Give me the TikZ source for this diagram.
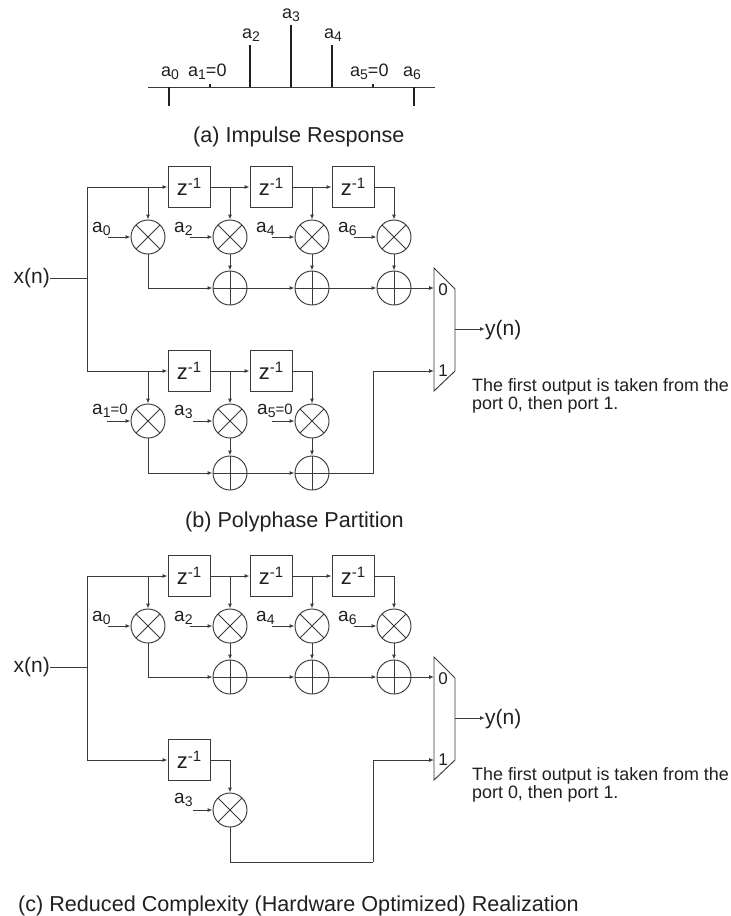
\documentclass[tikz,border=0pt]{standalone}
\usepackage{fontspec}
\setmainfont{Liberation Sans}
\usetikzlibrary{arrows.meta}
\definecolor{LineGray}{HTML}{3a3a3a}
\definecolor{InkGray}{HTML}{231f20}
\newcommand{\zinv}{z\raisebox{6.5pt}{\fontsize{15}{15}\selectfont -1}}
\newcommand{\subi}[1]{\raisebox{-3.5pt}{\fontsize{14}{14}\selectfont #1}}
\tikzset{
    sig/.style={draw=LineGray, line width=0.95pt},
    sigarrow/.style={sig, ->},
    stem/.style={draw=InkGray, line width=1.5pt},
    lbl/.style={inner sep=0pt, text=InkGray},
    coef/.style={lbl, anchor=base west, font=\fontsize{19}{19}\selectfont},
    sigtext/.style={lbl, font=\fontsize{21}{21}\selectfont},
    captext/.style={lbl, anchor=base west, font=\fontsize{21.6}{22}\selectfont},
    portlbl/.style={lbl, font=\fontsize{17}{17}\selectfont},
    zbox/.style={draw=LineGray, line width=0.95pt, minimum width=42pt, minimum height=41pt, inner sep=0pt, text=InkGray, font=\fontsize{22}{22}\selectfont},
    mulnode/.style={circle, draw=LineGray, line width=0.95pt, minimum size=34pt, inner sep=0pt,
        path picture={\draw[LineGray, line width=0.95pt] (path picture bounding box.north west) -- (path picture bounding box.south east)
            (path picture bounding box.north east) -- (path picture bounding box.south west);}},
    addnode/.style={circle, draw=LineGray, line width=0.95pt, minimum size=34pt, inner sep=0pt,
        path picture={\draw[LineGray, line width=0.95pt] (path picture bounding box.north) -- (path picture bounding box.south)
            (path picture bounding box.west) -- (path picture bounding box.east);}},
}
\begin{document}
\begin{tikzpicture}[x=1pt, y=-1pt, >={Latex[length=5pt,width=4pt]}]
    \useasboundingbox (0,0) rectangle (731,916);
    % (a)
    \coordinate (axisL) at (148,87);
    \coordinate (axisR) at (435,87);
    \draw[sig] (axisL) -- (axisR);
    \foreach \xx/\yy in {169/106,210/84,250/45,291/25,332/45,373/84,414/106} {
        \draw[stem] (\xx,87) -- (\xx,\yy);
    }
    \foreach \nm/\xx/\yy/\txt in {A/161/76/a\subi{0},B/188/76/a\subi{1}={0},C/242/38/a\subi{2},D/282/18/a\subi{3},E/324/38/a\subi{4},F/350/76/a\subi{5}={0},G/403/76/a\subi{6}} {
        \node[coef, font=\fontsize{18}{18}\selectfont] (imp\nm) at (\xx,\yy) {\txt};
    }
    \node[captext] (capA) at (193,142) {(a) Impulse Response};
    % (b) and (c), upper branch
    \foreach \p/\dy in {b/0,c/389} {
        \node[sigtext, anchor=east] (\p xn) at (50,278+\dy) {x(n)};
        \coordinate (\p rail) at (87,187+\dy);
        \coordinate (\p join) at (87,278+\dy);
        \foreach \n/\xx in {A/189,B/271,C/353} {
            \node[zbox] (\p z\n) at (\xx,187+\dy) {\zinv};
        }
        \foreach \n/\xx/\txt in {A/148/0,B/230/2,C/312/4,D/394/6} {
            \node[mulnode] (\p m\n) at (\xx,237+\dy) {};
            \node[coef] (\p c\n) at (\xx-56,232+\dy) {a\subi{\txt}};
            \draw[sigarrow] ([xshift=-3pt]\p c\n.east |- \p m\n.west) -- (\p m\n.west);
        }
        \foreach \n/\xx in {B/230,C/312,D/394} {
            \node[addnode] (\p s\n) at (\xx,288+\dy) {};
            \draw[sigarrow] (\p m\n.south) -- (\p s\n.north);
        }
        \draw[sig] (\p xn.east) -- (\p join);
        \draw[sigarrow] (\p rail) -- (\p zA.west);
        \draw[sigarrow] (\p zA.east) -- (\p zB.west);
        \draw[sigarrow] (\p zB.east) -- (\p zC.west);
        \draw[sigarrow] (\p mA.north |- \p zA.west) -- (\p mA.north);
        \draw[sigarrow] (\p mB.north |- \p zB.west) -- (\p mB.north);
        \draw[sigarrow] (\p mC.north |- \p zC.west) -- (\p mC.north);
        \draw[sigarrow] (\p zC.east) -| (\p mD.north);
        \draw[sigarrow] (\p mA.south) |- (\p sB.west);
        \draw[sigarrow] (\p sB.east) -- (\p sC.west);
        \draw[sigarrow] (\p sC.east) -- (\p sD.west);
        % mux
        \coordinate (\p muxA) at (434,268+\dy);
        \coordinate (\p muxB) at (455,289+\dy);
        \coordinate (\p muxC) at (455,371+\dy);
        \coordinate (\p muxD) at (434,391+\dy);
        \coordinate (\p inA) at (434,288+\dy);
        \coordinate (\p inB) at (434,371+\dy);
        \coordinate (\p out) at (455,329+\dy);
        \draw[sig] (\p muxA) -- (\p muxB) -- (\p muxC) -- (\p muxD) -- cycle;
        \node[portlbl] (\p portA) at (443,290+\dy) {0};
        \node[portlbl] (\p portB) at (443,371+\dy) {1};
        \node[sigtext, anchor=west] (\p yn) at (485,330+\dy) {y(n)};
        \draw[sigarrow] (\p out) -- (\p out -| \p yn.west);
        \draw[sigarrow] (\p sD.east) -- (\p inA);
        \node[lbl, anchor=west, align=left, font=\fontsize{17.9}{18}\selectfont] (\p note) at (472,396+\dy) {The first output is taken from the\\port 0, then port 1.};
    }
    % (b), lower branch
    \coordinate (bturn) at (373,371);
    \draw[sig] (brail) -- (87,371) coordinate (blow);
    \node[zbox] (dA) at (189,371) {\zinv};
    \node[zbox] (dB) at (271,371) {\zinv};
    \node[mulnode] (nA) at (148,421) {};
    \node[mulnode] (nB) at (230,421) {};
    \node[mulnode] (nC) at (312,421) {};
    \node[addnode] (tB) at (230,473) {};
    \node[addnode] (tC) at (312,473) {};
    \node[coef] (kA) at (92,414) {a\subi{1}\fontsize{15}{15}\selectfont =0};
    \node[coef] (kB) at (174,415) {a\subi{3}};
    \node[coef] (kC) at (257,414) {a\subi{5}\fontsize{15}{15}\selectfont =0};
    \coordinate (kAend) at (107,421);
    \coordinate (kCend) at (272,421);
    \draw[sigarrow] (kAend) -- (nA.west);
    \draw[sigarrow] (kB.east |- nB.west) -- (nB.west);
    \draw[sigarrow] (kCend) -- (nC.west);
    \draw[sigarrow] (blow) -- (dA.west);
    \draw[sigarrow] (dA.east) -- (dB.west);
    \draw[sigarrow] (nA.north |- dA.west) -- (nA.north);
    \draw[sigarrow] (nB.north |- dB.west) -- (nB.north);
    \draw[sigarrow] (dB.east) -| (nC.north);
    \draw[sigarrow] (nB.south) -- (tB.north);
    \draw[sigarrow] (nC.south) -- (tC.north);
    \draw[sigarrow] (nA.south) |- (tB.west);
    \draw[sigarrow] (tB.east) -- (tC.west);
    \draw[sigarrow] (tC.east) -| (bturn) -- (binB);
    \node[captext] (capB) at (185,527) {(b) Polyphase Partition};
    % (c), lower branch
    \draw[sig] (crail) -- (87,760) coordinate (clow);
    \node[zbox] (eA) at (189,760) {\zinv};
    \node[mulnode] (oA) at (230,810) {};
    \node[coef] (lA) at (174,803) {a\subi{3}};
    \coordinate (cdrop) at (230,862);
    \coordinate (cturn) at (373,862);
    \draw[sigarrow] (clow) -- (eA.west);
    \draw[sigarrow] (eA.east) -| (oA.north);
    \draw[sigarrow] (lA.east |- oA.west) -- (oA.west);
    \draw[sig] (oA.south) -- (cdrop) -- (cturn);
    \draw[sigarrow] (cturn) |- (cinB);
    \node[captext] (capC) at (18,911) {(c) Reduced Complexity (Hardware Optimized) Realization};
\end{tikzpicture}
\end{document}
